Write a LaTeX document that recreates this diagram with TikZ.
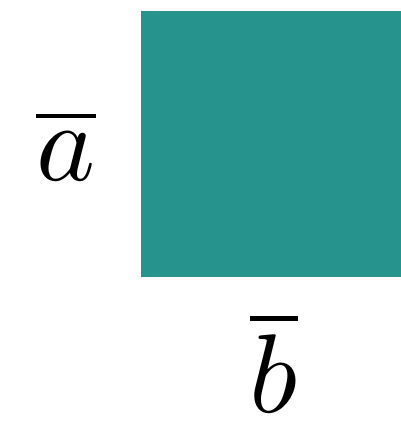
\documentclass[tikz,border=0pt]{standalone}
\usepackage{graphicx}
\definecolor{teal1}{HTML}{26938C}
\begin{document}
\begin{tikzpicture}[x=1pt,y=-1pt,
  lbl/.style={inner sep=0pt,anchor=base}]
\useasboundingbox (0,0) rectangle (401,424);
\fill[teal1] (141,11) rectangle (401,277);
\node[lbl] (a) at (66,180) {\scalebox{11.2}{$\overline{a}$}};
\node[lbl] (b) at (274,412) {\scalebox{11.2}{$\overline{b}$}};
\end{tikzpicture}
\end{document}
